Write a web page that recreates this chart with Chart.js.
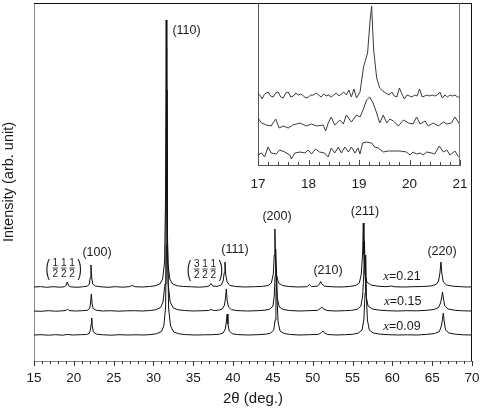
<!DOCTYPE html>
<html lang="en">
<head>
<meta charset="UTF-8" />
<title>XRD patterns</title>
<script src="https://cdn.jsdelivr.net/npm/chart.js"></script>
<style>
  html,body{margin:0;padding:0;background:#fff}
  #wrap{position:relative;width:480px;height:408px}
  #main{position:absolute;left:0;top:0}
  #inset{position:absolute;left:250px;top:0}
</style>
</head>
<body>
<div id="wrap">
  <canvas id="main" width="480" height="408"></canvas>
  <canvas id="inset" width="226" height="200"></canvas>
</div>
<script>
// --- main patterns: [2theta, intensity above own baseline] ----------------
const scan021 = [[15,0],[15.8,0.4],[16.6,-0.3],[17.4,0.3],[18.2,-0.2],[18.8,0.2],[19.0,1.2],[19.18,5],[19.35,1.2],[19.6,0.2],[20.4,-0.3],[21.2,0.3],[21.7,0.8],[21.95,3],[22.05,9],[22.15,22],[22.25,9],[22.37,3],[22.7,1],[23.4,0.2],[24.3,-0.3],[25.2,0.3],[26.2,-0.2],[27.0,0.4],[27.35,1.6],[27.7,0.3],[28.6,0],[29.5,0.5],[30.2,1.2],[30.8,3],[31.15,8],[31.4,25],[31.52,90],[31.6,267],[31.68,90],[31.8,25],[32.05,8],[32.4,3],[33.0,1.2],[33.8,0.5],[34.8,0.2],[35.8,-0.2],[36.7,0.4],[37.0,1],[37.22,3.5],[37.45,1],[38.0,0.6],[38.5,2],[38.75,6],[38.88,14],[38.98,25],[39.08,12],[39.25,5],[39.6,1.5],[40.3,0.5],[41.5,0],[42.7,0.3],[43.7,0.6],[44.4,1.5],[44.8,4],[45.05,13],[45.17,32],[45.25,58],[45.33,30],[45.45,12],[45.7,4],[46.2,1.5],[47.0,0.5],[48.2,0],[49.3,0.3],[49.57,2.5],[49.85,0.4],[50.6,0.8],[50.85,3],[51.0,5.5],[51.15,3],[51.5,0.8],[52.5,0.2],[53.6,0],[54.6,0.5],[55.4,1.5],[55.85,4],[56.1,13],[56.27,35],[56.35,64],[56.43,33],[56.55,14],[56.8,5],[57.3,2],[58.2,0.8],[59.2,0.3],[59.9,1],[60.3,0.2],[61.5,0],[62.6,0.3],[63.8,0.5],[64.8,1],[65.5,2.5],[65.8,6],[65.97,14],[66.1,25],[66.22,13],[66.4,5],[66.8,2],[67.6,0.8],[68.6,0.3],[69.4,0],[70,0.2]];
const scan015 = [[15,0],[15.9,-0.3],[16.8,0.3],[17.7,-0.2],[18.6,0.2],[19.0,0.5],[19.2,2],[19.4,0.4],[20.2,0],[21.1,0.3],[21.75,0.8],[22.0,3],[22.1,8],[22.2,17],[22.3,7],[22.42,2.5],[22.8,0.8],[23.6,0],[24.6,0.3],[25.6,-0.2],[26.6,0.2],[27.6,0.3],[28.6,0],[29.6,0.5],[30.3,1.3],[30.9,3.5],[31.2,9],[31.45,27],[31.57,95],[31.65,263],[31.73,95],[31.85,27],[32.1,9],[32.5,3],[33.1,1.2],[33.9,0.5],[35.0,0],[36.2,0.3],[36.9,0.5],[37.25,1.5],[37.55,0.5],[38.2,0.8],[38.65,2],[38.92,6],[39.05,13],[39.15,22],[39.25,11],[39.42,4],[39.8,1.3],[40.5,0.4],[41.8,0],[43,0.3],[44,0.8],[44.6,1.8],[45.0,5],[45.17,15],[45.27,35],[45.35,62],[45.43,33],[45.55,13],[45.8,4],[46.3,1.5],[47.1,0.5],[48.3,0],[49.4,0.3],[50.6,0.6],[50.95,2.5],[51.15,4],[51.35,2],[51.8,0.5],[52.8,0],[54,0.3],[54.9,0.7],[55.6,1.7],[56.05,5],[56.27,15],[56.42,38],[56.5,70],[56.58,36],[56.72,14],[56.95,5],[57.5,2],[58.4,0.8],[59.4,0.3],[60.6,0],[61.8,0.3],[63,0.2],[64.2,0.6],[65.2,1.5],[65.8,3.5],[66.05,8],[66.2,14],[66.3,19],[66.4,13],[66.58,5],[67,2],[67.8,0.8],[68.8,0.2],[70,0]];
const scan009 = [[15,0],[15.9,0.3],[16.8,-0.2],[17.7,0.3],[18.6,-0.2],[19.2,0.6],[19.8,0],[20.8,0.3],[21.6,0.5],[21.95,1.5],[22.1,6],[22.2,12],[22.25,17],[22.32,9],[22.45,3],[22.85,0.8],[23.7,0.2],[24.7,-0.2],[25.7,0.3],[26.8,0],[27.8,0.2],[28.8,0],[29.7,0.5],[30.4,1.3],[31.0,3.5],[31.3,9],[31.52,27],[31.63,90],[31.7,245],[31.77,90],[31.9,27],[32.15,9],[32.55,3],[33.2,1.2],[34,0.4],[35.2,0],[36.4,0.2],[37.4,0.3],[38.3,0.8],[38.75,2],[39.02,6],[39.15,13],[39.25,21],[39.35,11],[39.52,4],[39.9,1.3],[40.6,0.4],[41.9,0],[43.1,0.3],[44.1,0.8],[44.7,1.8],[45.1,5],[45.28,15],[45.38,36],[45.45,66],[45.53,34],[45.65,13],[45.9,4],[46.4,1.5],[47.2,0.5],[48.4,0],[49.6,0.3],[50.7,0.6],[51.1,2.5],[51.3,4],[51.5,2],[51.9,0.5],[52.9,0],[54,0.3],[55,0.7],[55.7,1.8],[56.2,5],[56.43,16],[56.57,42],[56.65,80],[56.73,40],[56.87,15],[57.1,5],[57.6,2],[58.5,0.8],[59.5,0.3],[60.7,0],[61.9,0.2],[63.1,0],[64.3,0.6],[65.3,1.5],[65.9,3.5],[66.15,9],[66.3,16],[66.4,22],[66.5,14],[66.68,5],[67.1,2],[67.9,0.8],[68.9,0.2],[70,0]];

const scans = [scan021, scan015, scan009];
const scanOffsets = [74, 50, 26];
const seriesNames = ['0.21', '0.15', '0.09'];
const seriesLabelAt = [[61.2, 84], [61.3, 59], [61.2, 34]];

// peak labels: [text, 2theta, height]
const peakLabels = [
  ['(110)', 34.15, 330],
  ['(100)', 22.91, 108],
  ['(111)', 40.24, 111],
  ['(200)', 45.51, 144],
  ['(210)', 51.92, 90],
  ['(211)', 56.56, 149],
  ['(220)', 66.23, 109]
];
// superlattice reflections (h/2 k/2 l/2)
const fracLabels = [
  {num: ['1','1','1'], den: ['2','2','2'], at: [18.73, 93]},
  {num: ['3','1','1'], den: ['2','2','2'], at: [36.47, 92]}
];

// --- inset, 17-21 deg -----------------------------------------------------
const insetTop = [[17.0,72],[17.05,69],[17.08,66],[17.13,71],[17.2,73],[17.25,69],[17.3,68],[17.35,72],[17.4,73],[17.45,68],[17.5,67],[17.55,72],[17.6,73],[17.65,68],[17.7,69],[17.75,72],[17.8,70],[17.85,71],[17.9,69],[17.95,67],[18.0,68],[18.05,70],[18.1,70],[18.15,72],[18.2,70],[18.25,68],[18.3,71],[18.35,69],[18.4,70],[18.45,68],[18.5,70],[18.55,72],[18.6,69],[18.65,71],[18.7,73],[18.75,70],[18.8,75],[18.85,68],[18.9,76],[18.95,67],[19.02,73],[19.09,98],[19.17,112],[19.22,145],[19.25,159],[19.29,115],[19.35,87],[19.41,77],[19.47,74],[19.53,72],[19.6,70],[19.65,73],[19.7,69],[19.75,68],[19.8,77],[19.85,71],[19.9,66],[19.95,70],[20.0,69],[20.05,68],[20.1,70],[20.15,69],[20.2,76],[20.25,68],[20.3,69],[20.35,70],[20.4,69],[20.45,70],[20.5,69],[20.55,70],[20.6,73],[20.65,67],[20.7,70],[20.75,68],[20.8,70],[20.85,69],[20.9,70],[20.95,68],[21.0,68]];
const insetMid = [[17.0,47],[17.07,42],[17.17,40],[17.26,39],[17.35,46],[17.42,37],[17.5,39],[17.6,37],[17.69,40],[17.83,42],[17.96,39],[18.06,41],[18.16,39],[18.29,40],[18.34,34],[18.39,42],[18.45,48],[18.52,40],[18.62,45],[18.69,41],[18.75,50],[18.85,43],[18.95,50],[19.02,48],[19.08,55],[19.15,65],[19.21,68],[19.28,62],[19.35,52],[19.41,42],[19.48,50],[19.55,42],[19.61,46],[19.68,44],[19.78,39],[19.88,45],[19.98,42],[20.07,41],[20.14,48],[20.21,41],[20.31,44],[20.37,39],[20.47,42],[20.57,39],[20.67,43],[20.74,41],[20.83,42],[20.9,48],[20.99,41]];
const insetBot = [[17.0,10],[17.07,12],[17.13,8],[17.2,18],[17.26,12],[17.36,11],[17.43,15],[17.53,13],[17.63,10],[17.66,6],[17.73,12],[17.83,13],[17.93,12],[17.99,15],[18.06,11],[18.14,16],[18.22,13],[18.32,12],[18.39,8],[18.45,17],[18.52,12],[18.59,18],[18.65,12],[18.72,18],[18.79,13],[18.85,18],[18.92,12],[18.98,17],[19.02,11],[19.07,22],[19.15,23],[19.25,22],[19.31,18],[19.38,17],[19.48,13],[19.58,14],[19.68,14],[19.81,14],[19.94,13],[20.01,10],[20.07,13],[20.14,11],[20.21,12],[20.27,10],[20.34,13],[20.44,12],[20.5,11],[20.59,19],[20.67,13],[20.74,15],[20.8,10],[20.9,14],[20.97,8]];

const FONT = "'Liberation Sans', Arial, Helvetica, sans-serif";
const INK = '#1a1a1a';

function toPoints(scan, offset) {
  return scan.map(p => ({x: p[0], y: p[1] + offset}));
}

// fixed axis boxes, no extra room for edge labels
function fixX(h) {
  return s => { s.height = h; s.paddingLeft = 0; s.paddingRight = 0; };
}

// top + right frame lines
const framePlugin = {
  id: 'frame',
  afterDraw(chart, args, opts) {
    const {ctx, chartArea: a} = chart;
    ctx.save();
    ctx.strokeStyle = opts.color;
    ctx.lineWidth = 1;
    ctx.beginPath();
    if (opts.top) { ctx.moveTo(a.left, a.top + 0.5); ctx.lineTo(a.right, a.top + 0.5); }
    ctx.moveTo(a.right - 0.5, a.top); ctx.lineTo(a.right - 0.5, a.bottom);
    ctx.stroke();
    ctx.restore();
  }
};

// major/minor tick marks on the x axis (dir 1 = outward, -1 = inward)
const tickPlugin = {
  id: 'minorTicks',
  afterDraw(chart, args, opts) {
    const s = chart.scales.x, a = chart.chartArea, ctx = chart.ctx;
    ctx.save();
    ctx.strokeStyle = opts.color;
    ctx.lineWidth = 1;
    ctx.beginPath();
    s.ticks.forEach(t => {
      const r = t.value / opts.majorStep;
      const len = Math.abs(r - Math.round(r)) < 1e-6 ? opts.major : opts.minor;
      const x = Math.round(s.getPixelForValue(t.value)) + 0.5;
      ctx.moveTo(x, a.bottom);
      ctx.lineTo(x, a.bottom + opts.dir * len);
    });
    ctx.stroke();
    ctx.restore();
  }
};

function drawFrac(ctx, cx, cy, num, den) {
  ctx.save();
  ctx.textAlign = 'center';
  ctx.textBaseline = 'middle';
  ctx.font = '22px ' + FONT;
  [[-16, '('], [16, ')']].forEach(([dx, ch]) => {
    ctx.save();
    ctx.translate(cx + dx, cy);
    ctx.scale(0.6, 1);
    ctx.fillText(ch, 0, 1);
    ctx.restore();
  });
  ctx.font = '10px ' + FONT;
  num.forEach((n, i) => {
    const x = cx + (i - 1) * 8.3;
    ctx.fillText(n, x, cy - 5);
    ctx.fillText(den[i], x, cy + 6);
    ctx.fillRect(x - 2.8, cy - 0.4, 5.6, 0.8);
  });
  ctx.restore();
}

const labelPlugin = {
  id: 'peakText',
  afterDatasetsDraw(chart) {
    const {ctx, scales: {x, y}} = chart;
    ctx.save();
    ctx.fillStyle = INK;
    ctx.textAlign = 'center';
    ctx.textBaseline = 'middle';
    ctx.font = '12.5px ' + FONT;
    peakLabels.forEach(([t, tx, ty]) => ctx.fillText(t, x.getPixelForValue(tx), y.getPixelForValue(ty)));
    fracLabels.forEach(f => drawFrac(ctx, x.getPixelForValue(f.at[0]), y.getPixelForValue(f.at[1]), f.num, f.den));
    // x=... composition labels, italic x
    seriesNames.forEach((n, i) => {
      const px = x.getPixelForValue(seriesLabelAt[i][0]);
      const py = y.getPixelForValue(seriesLabelAt[i][1]);
      ctx.font = 'italic 13px "Liberation Serif", "Times New Roman", serif';
      const w1 = ctx.measureText('x').width;
      ctx.font = '12.5px ' + FONT;
      const w2 = ctx.measureText('=' + n).width;
      const left = px - (w1 + w2) / 2;
      ctx.textAlign = 'left';
      ctx.font = 'italic 13px "Liberation Serif", "Times New Roman", serif';
      ctx.fillText('x', left, py);
      ctx.font = '12.5px ' + FONT;
      ctx.fillText('=' + n, left + w1, py);
      ctx.textAlign = 'center';
    });
    ctx.restore();
  }
};

const lineStyle = {borderColor: '#111', borderWidth: 1, pointRadius: 0, showLine: true, fill: false};

new Chart(document.getElementById('main'), {
  type: 'scatter',
  data: {
    datasets: scans.map((s, i) => Object.assign({label: 'x=' + seriesNames[i], data: toPoints(s, scanOffsets[i])}, lineStyle))
  },
  options: {
    responsive: false, animation: false, devicePixelRatio: 1,
    layout: {padding: {top: 3, right: 8, left: 0, bottom: 0}},
    plugins: {
      legend: {display: false}, tooltip: {enabled: false},
      frame: {color: '#111', top: true},
      minorTicks: {color: '#333', dir: 1, major: 5, minor: 3, majorStep: 5}
    },
    scales: {
      x: {
        type: 'linear', min: 15, max: 70,
        ticks: {stepSize: 1, autoSkip: false, maxRotation: 0, padding: 9, color: INK,
                font: {family: FONT, size: 13.5}, callback: v => v % 5 === 0 ? String(v) : ''},
        grid: {display: false, drawTicks: false},
        border: {color: '#888'},
        title: {display: true, text: '2θ (deg.)', color: INK, font: {family: FONT, size: 15}, padding: 0},
        afterFit: fixX(47)
      },
      y: {
        min: 0, max: 358,
        ticks: {display: false},
        grid: {display: false, drawTicks: false},
        border: {color: '#888'},
        title: {display: true, text: 'Intensity (arb. unit)', color: INK, font: {family: FONT, size: 14.5}, padding: 0},
        afterFit(s) { s.width = 34; }
      }
    }
  },
  plugins: [framePlugin, tickPlugin, labelPlugin]
});

const insetStyle = {borderColor: '#3a3a3a', borderWidth: 1, pointRadius: 0, showLine: true, fill: false};

new Chart(document.getElementById('inset'), {
  type: 'scatter',
  data: {
    datasets: [insetTop, insetMid, insetBot].map((s, i) => Object.assign({label: 'x=' + seriesNames[i], data: toPoints(s, 0)}, insetStyle))
  },
  options: {
    responsive: false, animation: false, devicePixelRatio: 1,
    layout: {padding: {top: 3, right: 16, left: 8, bottom: 0}},
    plugins: {
      legend: {display: false}, tooltip: {enabled: false},
      frame: {color: '#777', top: false},
      minorTicks: {color: '#444', dir: -1, major: 5, minor: 3, majorStep: 1}
    },
    scales: {
      x: {
        type: 'linear', min: 17, max: 21,
        ticks: {stepSize: 0.2, autoSkip: false, maxRotation: 0, padding: 11, color: INK,
                font: {family: FONT, size: 13.5},
                callback: v => Math.abs(v - Math.round(v)) < 1e-6 ? String(Math.round(v)) : ''},
        grid: {display: false, drawTicks: false},
        border: {color: '#555'},
        afterFit: fixX(35)
      },
      y: {
        min: 0, max: 162,
        ticks: {display: false},
        grid: {display: false, drawTicks: false},
        border: {color: '#555'},
        afterFit(s) { s.width = 0; }
      }
    }
  },
  plugins: [framePlugin, tickPlugin]
});
</script>
</body>
</html>
